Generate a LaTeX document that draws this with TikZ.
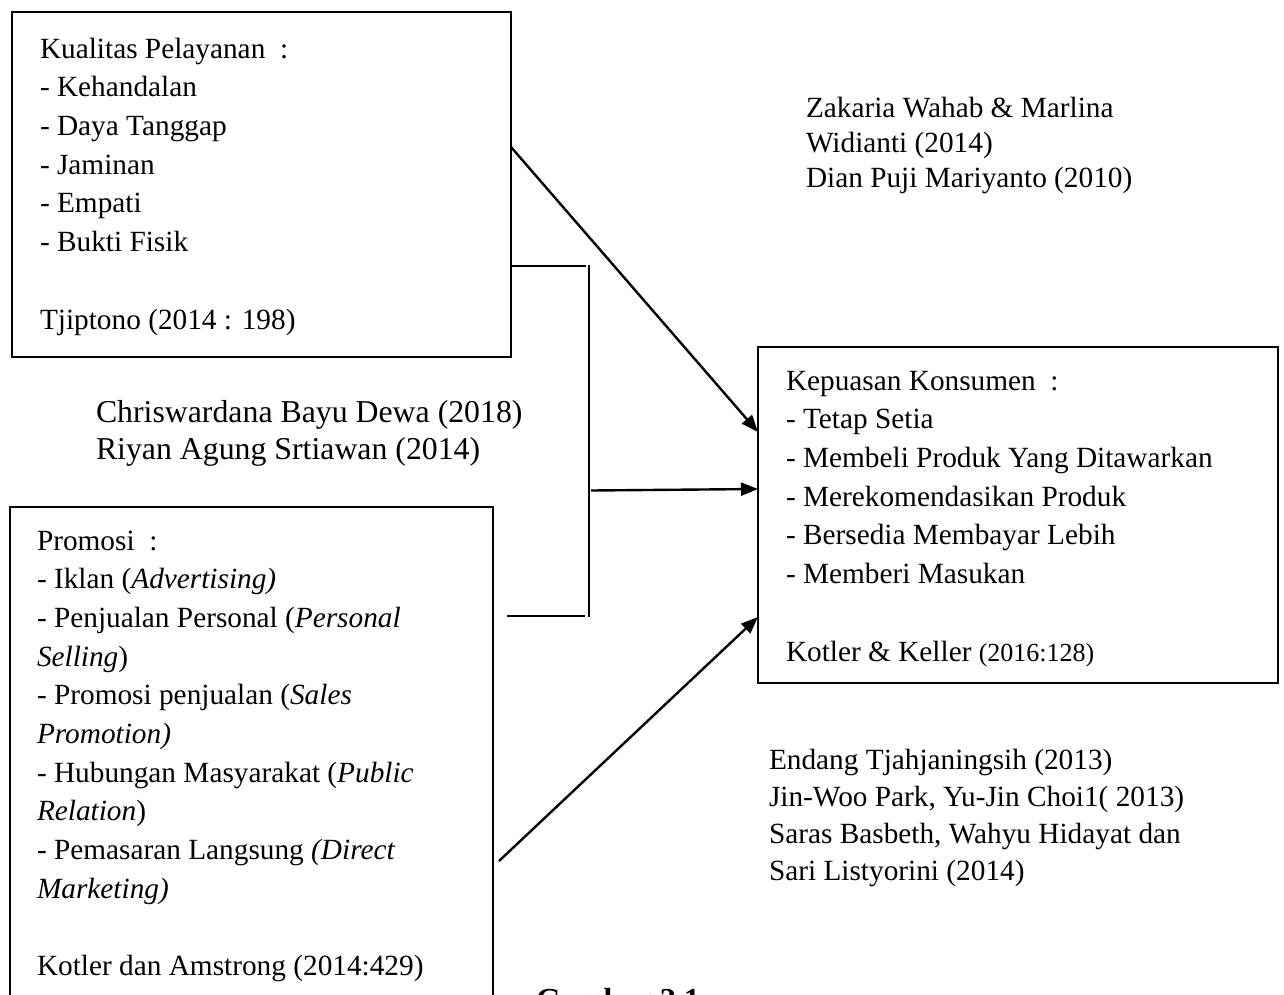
\documentclass[tikz,border=0pt]{standalone}
\usepackage{fontspec}
\setmainfont{Liberation Serif}
\usetikzlibrary{arrows.meta}
\begin{document}
\begin{tikzpicture}[x=1pt,y=-1pt,
  box/.style={draw,line width=2pt,inner sep=0pt,outer sep=0pt,anchor=north west},
  ln/.style={anchor=base west,inner sep=0pt,outer sep=0pt,font=\fontsize{29.3pt}{38.7pt}\selectfont},
  big/.style={anchor=base west,inner sep=0pt,outer sep=0pt,font=\fontsize{31.8pt}{37pt}\selectfont},
  arr/.style={line width=2.4pt,-{Triangle[length=17pt,width=13pt]}},
  thin/.style={line width=1.7pt}]
\useasboundingbox (0,0) rectangle (1284,994);
\clip (0,0) rectangle (1284,994);

% boxes
\node[box,minimum width=499pt,minimum height=345pt] (kp) at (12,12) {};
\node[box,minimum width=483.5pt,minimum height=600pt] (pr) at (9.5,507) {};
\node[box,minimum width=520pt,minimum height=336pt] (kk) at (758,347) {};

% box 1 text
\foreach \t [count=\i from 0] in {{Kualitas Pelayanan\ \ :},{- Kehandalan},{- Daya Tanggap},{- Jaminan},{- Empati},{- Bukti Fisik}}
  \node[ln] (kpt\i) at (40,{58+38.7*\i}) {\t};
\node[ln] (kpsrc) at (40,329) {Tjiptono (2014 : 198)};

% box 2 text
\foreach \t [count=\i from 0] in {{Promosi\ \ :},{- Iklan (\textit{Advertising)}},{- Penjualan Personal (\textit{Personal}},{\textit{Selling})},{- Promosi penjualan (\textit{Sales}},{\textit{Promotion)}},{- Hubungan Masyarakat (\textit{Public}},{\textit{Relation})},{- Pemasaran Langsung \textit{(Direct}},{\textit{Marketing)}}}
  \node[ln] (prt\i) at (37,{550+38.7*\i}) {\t};
\node[ln] (prsrc) at (37,975.7) {Kotler dan Amstrong (2014:429)};

% box 3 text
\foreach \t [count=\i from 0] in {{Kepuasan Konsumen\ \ :},{- Tetap Setia},{- Membeli Produk Yang Ditawarkan},{- Merekomendasikan Produk},{- Bersedia Membayar Lebih},{- Memberi Masukan}}
  \node[ln] (kkt\i) at (786,{390+38.7*\i}) {\t};
\node[ln] (kksrc) at (786,661) {Kotler \& Keller {\fontsize{26pt}{30pt}\selectfont(2016:128)}};

% references
\node[ln] (z1) at (806,117) {Zakaria Wahab \& Marlina};
\node[ln] (z2) at (806,152) {Widianti (2014)};
\node[ln] (z3) at (806,187) {Dian Puji Mariyanto (2010)};

\node[big] (c1) at (96,422) {Chriswardana Bayu Dewa (2018)};
\node[big] (c2) at (96,459) {Riyan Agung Srtiawan (2014)};

\node[ln] (e1) at (769,769) {Endang Tjahjaningsih (2013)};
\node[ln] (e2) at (769,806) {Jin-Woo Park, Yu-Jin Choi1( 2013)};
\node[ln] (e3) at (769,843) {Saras Basbeth, Wahyu Hidayat dan};
\node[ln] (e4) at (769,880) {Sari Listyorini (2014)};

\node[anchor=base west,inner sep=0pt,font=\fontsize{32pt}{38pt}\selectfont\bfseries] (gb) at (536,1010) {Gambar 2.1};

% connectors
\draw[arr] (kp.east |- 0,147) -- (kk.west |- 0,432);

\coordinate (bt) at (586,266);
\coordinate (vt) at (589,265);
\coordinate (vb) at (589,617);
\coordinate (bl) at (507,616);
\coordinate (br) at (585,616);
\coordinate (ms) at (591,490.5);
\coordinate (ps) at (499,861);
\draw[thin] (kp.east |- bt) -- (bt);
\draw[thin] (vt) -- (vb);
\draw[thin] (bl) -- (br);
\draw[arr] (ms) -- (kk.west |- 0,489);
\draw[arr] (ps) -- (kk.west |- 0,617);
\end{tikzpicture}
\end{document}
